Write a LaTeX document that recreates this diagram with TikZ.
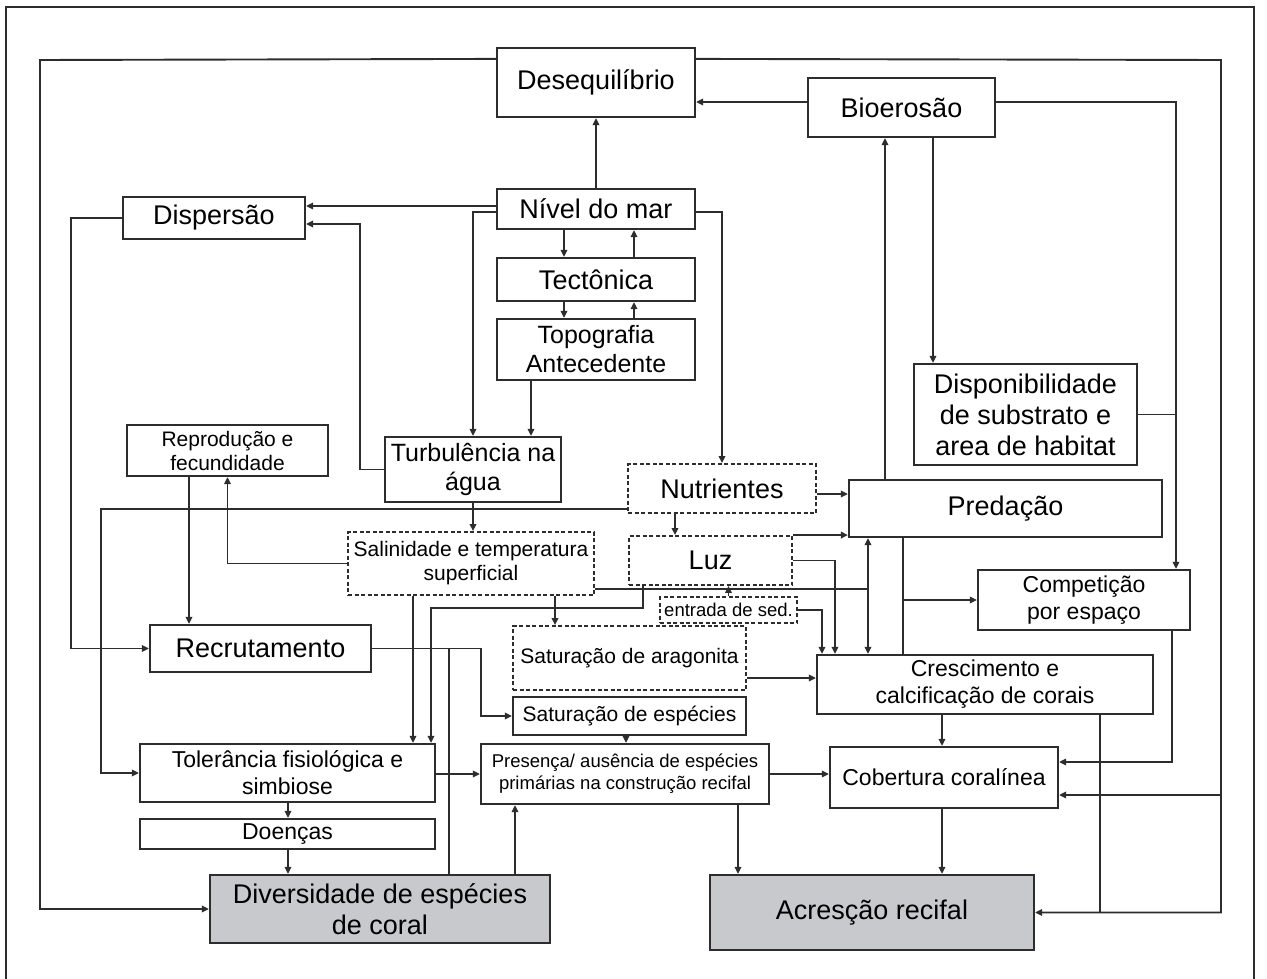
\documentclass[tikz,border=0pt]{standalone}
\usepackage{fontspec}
\setmainfont{Liberation Sans}
\usepackage{tikz}
\usetikzlibrary{arrows.meta}
\definecolor{boxgray}{RGB}{200,201,204}
\definecolor{ink}{RGB}{45,45,45}

\tikzset{
  box/.style={draw=ink, line width=2.2pt, fill=white, inner sep=0pt, align=center},
  dbox/.style={box, line width=1.9pt, dash pattern=on 4pt off 2.5pt},
  gbox/.style={box, fill=boxgray},
  conn/.style={draw=ink, line width=1.9pt},
  arr/.style={conn, -{Triangle[length=7pt,width=6.5pt]}},
  bigtxt/.style={font=\fontsize{27}{31}\selectfont},
  midtxt/.style={font=\fontsize{25}{29}\selectfont},
  medtxt/.style={font=\fontsize{23}{27}\selectfont},
  smalltxt/.style={font=\fontsize{21}{24}\selectfont},
  tinytxt/.style={font=\fontsize{18.5}{22}\selectfont}
}

\begin{document}
\begin{tikzpicture}[x=1pt, y=-1pt]
        \useasboundingbox (0,0) rectangle (1267,979);
        \draw[line width=2pt, draw=ink] (6,979) -- (6,7) -- (1254,7) -- (1254,979);

        % boxes
        \node[box, minimum width=198pt, minimum height=69pt, bigtxt] (deseq) at (596,82.5) {Desequilíbrio};
        \node[box, minimum width=187pt, minimum height=59pt, bigtxt] (bioer) at (901.5,107.5) {Bioerosão};
        \node[box, minimum width=198pt, minimum height=40pt, bigtxt] (nivel) at (596,209) {Nível do mar};
        \node[box, minimum width=182pt, minimum height=42pt, bigtxt] (dispers) at (214,218) {Dispersão};
        \node[box, minimum width=198pt, minimum height=43pt, bigtxt] (tecton) at (596,279.5) {Tectônica};
        \node[box, minimum width=198pt, minimum height=61pt, midtxt] (topo) at (596,349.5) {Topografia\\Antecedente};
        \node[box, minimum width=223pt, minimum height=101pt, bigtxt] (dispon) at (1025.5,414.5) {Disponibilidade\\de substrato e\\area de habitat};
        \node[box, minimum width=201pt, minimum height=51pt, smalltxt] (reprod) at (227.5,450.5) {Reprodução e\\fecundidade};
        \node[box, minimum width=176pt, minimum height=65pt, midtxt] (turbul) at (473,469.5) {Turbulência na\\água};
        \node[dbox, minimum width=188pt, minimum height=49pt, bigtxt] (nutri) at (722,488.5) {Nutrientes};
        \node[box, minimum width=313pt, minimum height=57pt, bigtxt] (predac) at (1005.5,508.5) {Predação};
        \node[dbox, minimum width=246pt, minimum height=63pt, smalltxt] (salin) at (471,563.5) {Salinidade e temperatura\\superficial};
        \node[dbox, minimum width=163pt, minimum height=49pt, bigtxt] (luz) at (710.5,560.5) {Luz};
        \node[box, minimum width=212pt, minimum height=60pt, medtxt] (compet) at (1084,600) {Competição\\por espaço};
        \node[dbox, minimum width=137pt, minimum height=26pt, tinytxt] (entrada) at (728.5,610) {entrada de sed.};
        \node[box, minimum width=221pt, minimum height=47pt, bigtxt] (recrut) at (260.5,648.5) {Recrutamento};
        \node[dbox, minimum width=233pt, minimum height=64pt, smalltxt] (arag) at (629.5,658) {Saturação de aragonita};
        \node[box, minimum width=336pt, minimum height=59pt, medtxt] (cresc) at (985,684.5) {Crescimento e\\calcificação de corais};
        \node[box, minimum width=233pt, minimum height=38pt, smalltxt] (satesp) at (629.5,716) {Saturação de espécies};
        \node[box, minimum width=295pt, minimum height=58pt, medtxt] (toler) at (287.5,773) {Tolerância fisiológica e\\simbiose};
        \node[box, minimum width=288pt, minimum height=60pt, tinytxt] (presen) at (625,774) {Presença/ ausência de espécies\\primárias na construção recifal};
        \node[box, minimum width=228pt, minimum height=61pt, medtxt] (cobert) at (944,777.5) {Cobertura coralínea};
        \node[box, minimum width=295pt, minimum height=30pt, medtxt] (doenc) at (287.5,834) {Doenças};
        \node[gbox, minimum width=340pt, minimum height=68pt, bigtxt] (divers) at (380,909) {Diversidade de espécies\\de coral};
        \node[gbox, minimum width=324pt, minimum height=75pt, bigtxt] (acresc) at (872,912.5) {Acresção recifal};

        % outer loops
        \draw[arr] ([yshift=-12pt]deseq.north west) -- (40,60) |- (divers.west);
        \draw[arr] ([yshift=-12pt]deseq.north east) -- (1221,60) |- (acresc.east);
        \draw[arr] (1221,795) -- (cobert.east |- 1221,795);

        \draw[arr] (bioer.west |- 0,102) -- (deseq.east |- 0,102);
        \draw[arr] (bioer.east |- 0,102) -| (1176,0 |- compet.north);
        \draw[conn] (dispon.east) -- (1176,0 |- dispon.east);
        \draw[arr] (bioer.south -| 933,0) -- (dispon.north -| 933,0);
        \draw[arr] (predac.north -| 885,0) -- (bioer.south -| 885,0);

        \draw[arr] (nivel.north) -- (deseq.south);
        \draw[arr] (nivel.west |- 0,206) -- (dispers.east |- 0,206);
        \draw[arr] (nivel.west |- 0,212) -| (turbul.north);
        \draw[arr] (nivel.east |- 0,212) -| (nutri.north);
        \draw[arr] (nivel.south -| 564,0) -- (tecton.north -| 564,0);
        \draw[arr] (tecton.north -| 634,0) -- (nivel.south -| 634,0);
        \draw[arr] (tecton.south -| 564,0) -- (topo.north -| 564,0);
        \draw[arr] (topo.north -| 634,0) -- (tecton.south -| 634,0);
        \draw[arr] (topo.south -| 531,0) -- (turbul.north -| 531,0);

        \draw[arr] (turbul.west) -- (360,0 |- turbul.west) |- (dispers.east |- 0,224);
        \draw[arr] (turbul.south) -- (salin.north -| turbul.south);
        \draw[arr] (dispers.west) -- (71,0 |- dispers.west) |- (recrut.west);

        \draw[arr] (salin.west) -| (reprod.south);
        \draw[arr] (reprod.south -| 189,0) -- (recrut.north -| 189,0);
        \draw[arr] (salin.south -| 413,0) -- (toler.north -| 413,0);
        \draw[arr] (salin.south -| 555,0) -- (arag.north -| 555,0);
        \coordinate (sjoin) at (868,589);
        \draw[conn] (salin.east |- sjoin) -- (sjoin);
        \draw[arr] (sjoin) -- (predac.south -| sjoin);
        \draw[arr] (sjoin) -- (cresc.north -| sjoin);

        \draw[arr] (luz.south -| 643,0) |- (431,608) -- (toler.north -| 431,0);
        \draw[arr] (luz.east) -| (cresc.north -| 835,0);
        \draw[arr] (luz.north east) -- (predac.west |- luz.north east);
        \draw[arr] (nutri.east |- 0,494) -- (predac.west |- 0,494);
        \draw[arr] (nutri.south -| 675,0) -- (luz.north -| 675,0);
        \draw[arr] (nutri.west |- 0,509) -- (101,509) |- (toler.west);
        \draw[arr] (entrada.north) -- (luz.south -| entrada.north);
        \draw[arr] (entrada.east) -| (cresc.north -| 822,0);

        \draw[conn] (predac.south -| 903,0) -- (cresc.north -| 903,0);
        \draw[arr] (903,0 |- compet.west) -- (compet.west);

        \draw[arr] (recrut.east) -| (481,0 |- satesp.west) -- (satesp.west);
        \draw[conn] (divers.north -| 449,0) -- (449,0 |- recrut.east);
        \draw[arr] (arag.east |- 0,678) -- (cresc.west |- 0,678);
        \draw[arr] (satesp.south -| 626,0) -- (presen.north -| 626,0);

        \draw[arr] (toler.east |- 0,774) -- (presen.west |- 0,774);
        \draw[arr] (toler.south -| 288,0) -- (doenc.north -| 288,0);
        \draw[arr] (doenc.south -| 288,0) -- (divers.north -| 288,0);
        \draw[arr] (divers.north -| 515,0) -- (presen.south -| 515,0);
        \draw[arr] (presen.east |- 0,774) -- (cobert.west |- 0,774);
        \draw[arr] (presen.south -| 738,0) -- (acresc.north -| 738,0);
        \draw[arr] (cresc.south -| 942,0) -- (cobert.north -| 942,0);
        \draw[conn] (cresc.south -| 1100,0) -- (1100,0 |- acresc.east);
        \draw[arr] (compet.south -| 1172,0) |- (cobert.east |- 0,762);
        \draw[arr] (cobert.south -| 942,0) -- (acresc.north -| 942,0);
    \end{tikzpicture}
\end{document}
